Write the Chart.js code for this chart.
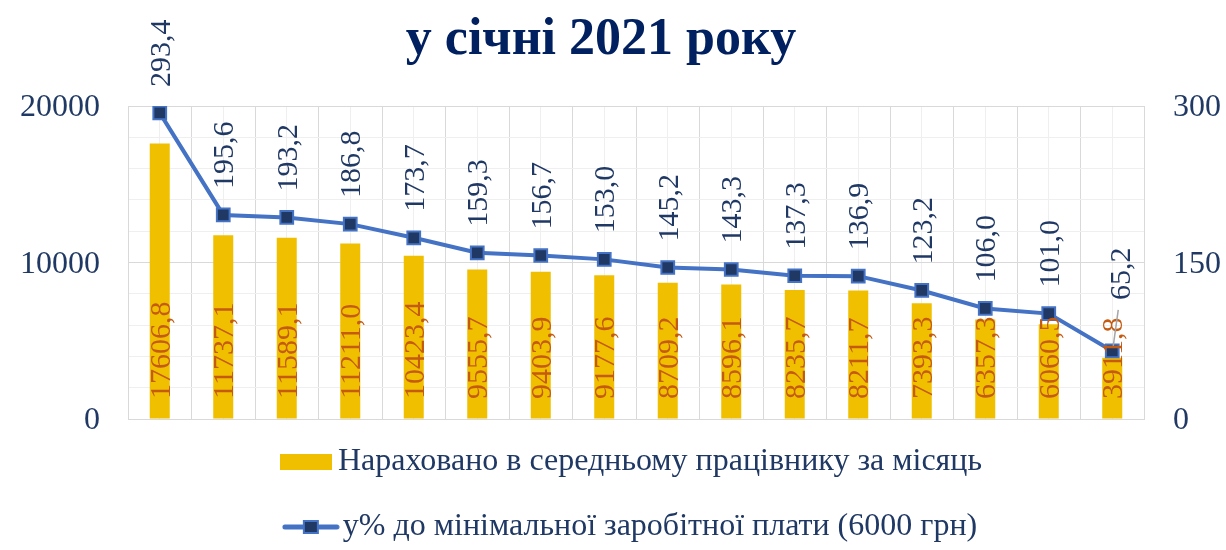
<!DOCTYPE html>
<html>
<head>
<meta charset="utf-8">
<style>
  html, body { margin: 0; padding: 0; background: #ffffff; }
  #wrap { width: 1226px; height: 550px; }
</style>
<script src="https://cdn.jsdelivr.net/npm/chart.js@4/dist/chart.umd.min.js"></script>
</head>
<body>
<div id="wrap"><canvas id="c" width="1226" height="550"></canvas></div>
<script>
// ---- data ----
const titleText = 'у січні 2021 року';
const categories = ['1', '2', '3', '4', '5', '6', '7', '8', '9', '10', '11', '12', '13', '14', '15', '16'];
const salary = [17606.8, 11737.1, 11589.1, 11211.0, 10423.4, 9555.7, 9403.9, 9177.6, 8709.2, 8596.1, 8235.7, 8211.7, 7393.3, 6357.3, 6060.5, 3911.8];
const percentOfMin = [293.4, 195.6, 193.2, 186.8, 173.7, 159.3, 156.7, 153.0, 145.2, 143.3, 137.3, 136.9, 123.2, 106.0, 101.0, 65.2];
const leftTickLabels = [0, 10000, 20000];
const rightTickLabels = [0, 150, 300];
const seriesNames = ['Нараховано в середньому працівнику за місяць', 'у% до мінімальної заробітної плати (6000 грн)'];

// ---- styles ----
const FONT = '"Times New Roman", "Liberation Serif", serif';
const NAVY = '#1F3864';
const TITLE_NAVY = '#002060';
const BAR_COLOR = '#F0C000';
const BAR_LABEL = '#C55A11';
const LINE_COLOR = '#4472C4';
const MARKER_FILL = '#203864';
const GRID_MAJOR = '#D9D9D9';
const GRID_MINOR = '#EFEFEF';
const LEGEND_TOP = 413;

const fmt = v => v.toFixed(1).replace('.', ',');

// legend symbols
function makeBarSymbol() {
  const c = document.createElement('canvas');
  c.width = 52; c.height = 16;
  const g = c.getContext('2d');
  g.fillStyle = BAR_COLOR;
  g.fillRect(0, 0, 52, 16);
  return c;
}
function makeLineSymbol() {
  const c = document.createElement('canvas');
  c.width = 58; c.height = 16;
  const g = c.getContext('2d');
  g.strokeStyle = LINE_COLOR;
  g.lineWidth = 5;
  g.lineCap = 'round';
  g.beginPath(); g.moveTo(3, 8); g.lineTo(55, 8); g.stroke();
  g.fillStyle = MARKER_FILL;
  g.strokeStyle = LINE_COLOR;
  g.lineWidth = 2;
  g.fillRect(22, 2, 14, 12);
  g.strokeRect(22, 2, 14, 12);
  return c;
}
const barSymbol = makeBarSymbol();
const lineSymbol = makeLineSymbol();

const labelPlugin = {
  id: 'valueLabels',
  afterDatasetsDraw(chart) {
    const ctx = chart.ctx;
    const yZero = chart.scales.y.getPixelForValue(0);
    const barMeta = chart.getDatasetMeta(0);
    const lineMeta = chart.getDatasetMeta(1);
    ctx.save();
    ctx.font = '30px ' + FONT;
    ctx.textBaseline = 'middle';
    ctx.textAlign = 'left';
    barMeta.data.forEach((el, i) => {
      ctx.save();
      ctx.translate(el.x + 2, yZero - 20);
      ctx.rotate(-Math.PI / 2);
      ctx.fillStyle = BAR_LABEL;
      ctx.fillText(fmt(salary[i]), 0, 0);
      ctx.restore();
    });
    const last = lineMeta.data.length - 1;
    lineMeta.data.forEach((el, i) => {
      let dx = 2, gap = 26;
      if (i === last) {
        dx = 10; gap = 51;
        ctx.save();
        ctx.strokeStyle = '#A6A6A6';
        ctx.lineWidth = 1.5;
        ctx.beginPath();
        ctx.moveTo(el.x + 1, el.y - 5);
        ctx.lineTo(el.x + 6, el.y - 41);
        ctx.stroke();
        ctx.restore();
      }
      ctx.save();
      ctx.translate(el.x + dx, el.y - gap);
      ctx.rotate(-Math.PI / 2);
      ctx.fillStyle = NAVY;
      ctx.fillText(fmt(percentOfMin[i]), 0, 0);
      ctx.restore();
    });
    ctx.restore();
  }
};

const legendShift = {
  id: 'legendShift',
  beforeDraw(chart) {
    const l = chart.legend;
    if (l) { l.top = LEGEND_TOP; l.bottom = chart.height; l.height = l.bottom - l.top; }
  }
};

new Chart(document.getElementById('c'), {
  data: {
    labels: categories,
    datasets: [
      {
        type: 'bar',
        label: seriesNames[0],
        data: salary,
        backgroundColor: BAR_COLOR,
        barPercentage: 0.315,
        categoryPercentage: 1,
        xAxisID: 'x',
        yAxisID: 'y',
        order: 2
      },
      {
        type: 'line',
        label: seriesNames[1],
        data: percentOfMin,
        borderColor: LINE_COLOR,
        borderWidth: 4,
        tension: 0,
        pointStyle: 'rect',
        pointRadius: 9,
        pointBackgroundColor: MARKER_FILL,
        pointBorderColor: LINE_COLOR,
        pointBorderWidth: 2,
        xAxisID: 'x',
        yAxisID: 'y1',
        order: 1
      }
    ]
  },
  options: {
    responsive: false,
    animation: false,
    layout: { padding: { left: -24, right: 0, top: 0, bottom: 0 } },
    scales: {
      x: {
        type: 'category',
        offset: true,
        grid: { offset: true, color: GRID_MAJOR, drawTicks: false },
        border: { display: true, color: GRID_MAJOR },
        ticks: { display: false }
      },
      x2: {
        type: 'category',
        labels: categories,
        position: 'bottom',
        offset: true,
        grid: { offset: false, color: GRID_MINOR, drawTicks: false },
        border: { display: false },
        ticks: { display: false },
        afterFit(s) { s.height = 0; }
      },
      y: {
        position: 'left',
        min: 0,
        max: 20000,
        ticks: {
          stepSize: 2000,
          autoSkip: false,
          padding: 28,
          labelOffset: 2,
          color: NAVY,
          font: { family: FONT, size: 32 },
          callback: v => leftTickLabels.includes(v) ? String(v) : ''
        },
        grid: {
          drawTicks: false,
          color: c => (c.tick && c.tick.value % 10000 === 0) ? GRID_MAJOR : GRID_MINOR
        },
        border: { color: GRID_MAJOR },
        afterFit(s) { s.width = 152; }
      },
      y1: {
        position: 'right',
        min: 0,
        max: 300,
        ticks: {
          stepSize: 150,
          padding: 29,
          labelOffset: 2,
          color: NAVY,
          font: { family: FONT, size: 32 },
          callback: v => rightTickLabels.includes(v) ? String(v) : ''
        },
        grid: { drawOnChartArea: false, drawTicks: false },
        border: { color: GRID_MAJOR },
        afterFit(s) { s.width = 82; }
      }
    },
    plugins: {
      title: {
        display: true,
        text: titleText,
        color: TITLE_NAVY,
        font: { family: FONT, size: 52, weight: 'bold' },
        padding: { top: 9, bottom: 34.6 }
      },
      legend: {
        display: true,
        position: 'bottom',
        fullSize: false,
        maxHeight: 131,
        labels: {
          usePointStyle: true,
          pointStyleWidth: 32,
          padding: 33,
          color: NAVY,
          font: { family: FONT, size: 32 },
          generateLabels: () => [
            { text: seriesNames[0], pointStyle: barSymbol, fillStyle: BAR_COLOR, strokeStyle: BAR_COLOR, lineWidth: 0, fontColor: NAVY, hidden: false, datasetIndex: 0 },
            { text: seriesNames[1], pointStyle: lineSymbol, fillStyle: LINE_COLOR, strokeStyle: LINE_COLOR, lineWidth: 0, fontColor: NAVY, hidden: false, datasetIndex: 1 }
          ]
        }
      },
      tooltip: { enabled: false }
    }
  },
  plugins: [labelPlugin, legendShift]
});
</script>
</body>
</html>
